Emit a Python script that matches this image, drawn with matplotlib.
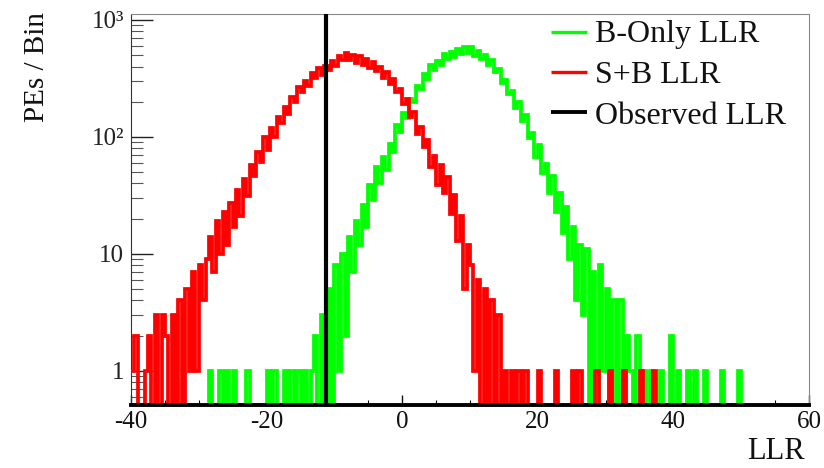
import numpy as np
import matplotlib.pyplot as plt
from matplotlib.ticker import LogLocator, MultipleLocator, NullFormatter

plt.rcParams['font.family'] = ['Liberation Serif', 'DejaVu Serif']

#=================================================================
#---- data: PEs per bin, bins of 0.5 in LLR starting at -40 ----
bin_low   = -40.0
bin_width = 0.5
obs_llr   = -11.2

bonly_counts = [
  0, 0, 0, 0, 0, 0, 0, 0, 0, 0,                  # -40
  0, 0, 0, 0, 0, 0, 0, 0, 0, 0,                  # -35
  0, 0, 0, 1, 0, 0, 1, 0, 1, 0,                  # -30
  1, 0, 0, 0, 1, 0, 0, 0, 0, 0,                  # -25
  1, 0, 1, 0, 0, 1, 0, 1, 0, 1,                  # -20
  0, 1, 0, 1, 2, 0, 3, 0, 5, 0,                  # -15
  8, 1, 10, 2, 14, 7, 19, 12, 26, 17,            # -10
  39, 29, 55, 40, 68, 52, 87, 75, 127, 111,      # -5
  159, 145, 211, 199, 271, 257, 343, 315, 409, 371,  # 0
  449, 412, 510, 463, 537, 483, 566, 513, 589, 522,  # 5
  588, 494, 547, 463, 502, 412, 457, 361, 379, 289,  # 10
  309, 231, 246, 178, 200, 138, 153, 97, 108, 67,    # 15
  85, 49, 59, 33, 46, 23, 33, 15, 25, 9,         # 20
  17, 4, 12, 3, 11, 0, 7, 0, 8, 1,               # 25
  5, 0, 4, 0, 4, 0, 2, 1, 0, 2,                  # 30
  0, 1, 0, 1, 0, 0, 1, 0, 0, 2,                  # 35
  0, 1, 0, 0, 1, 0, 1, 0, 0, 1,                  # 40
  0, 0, 0, 0, 1, 0, 0, 0, 0, 1,                  # 45
  0, 0, 0, 0, 0, 0, 0, 0, 0, 0,                  # 50
  0, 0, 0, 0, 0, 0, 0, 0, 0, 0,                  # 55
]

splusb_counts = [
  1, 2, 0, 0, 1, 2, 0, 3, 0, 3,                  # -40
  2, 0, 3, 0, 4, 0, 5, 1, 7, 1,                  # -35
  8, 4, 9, 14, 7, 19, 10, 23, 12, 27,            # -30
  17, 35, 21, 44, 31, 58, 46, 75, 61, 99,        # -25
  78, 120, 99, 147, 131, 182, 156, 219, 197, 266,    # -20
  240, 302, 274, 351, 318, 387, 337, 406, 370, 447,  # -15
  401, 491, 451, 524, 456, 504, 431, 490, 414, 463,  # -10
  385, 433, 365, 399, 318, 362, 283, 312, 240, 257,  # -5
  190, 210, 147, 163, 106, 122, 82, 95, 55, 69,  # 0
  39, 57, 33, 45, 22, 32, 13, 21, 5, 12,         # 5
  8, 1, 6, 0, 5, 0, 4, 0, 3, 0,                  # 10
  1, 0, 1, 0, 1, 0, 1, 0, 0, 0,                  # 15
  1, 0, 0, 0, 0, 1, 0, 0, 0, 0,                  # 20
  1, 0, 1, 0, 0, 0, 0, 1, 0, 0,                  # 25
  0, 1, 0, 0, 0, 1, 0, 0, 0, 0,                  # 30
  1, 0, 0, 0, 1, 0, 0, 0, 0, 0,                  # 35
  0, 0, 0, 0, 0, 0, 0, 0, 0, 0,                  # 40
  0, 0, 0, 0, 0, 0, 0, 0, 0, 0,                  # 45
  0, 0, 0, 0, 0, 0, 0, 0, 0, 0,                  # 50
  0, 0, 0, 0, 0, 0, 0, 0, 0, 0,                  # 55
]

legend_labels = ['B-Only LLR', 'S+B LLR', 'Observed LLR']
x_ticks       = [-40, -20, 0, 20, 40, 60]
x_ticklabels  = ['-40', '-20', '0', '20', '40', '60']
y_ticks       = [1, 10, 100, 1000]
y_ticklabels  = ['1', '10', '10\u00b2', '10\u00b3']

#=================================================================
bonly  = np.array(bonly_counts, dtype=float)
splusb = np.array(splusb_counts, dtype=float)
edges  = bin_low + bin_width*np.arange(len(bonly)+1)

#empty bins are drawn down to the bottom of the log axis (like ROOT)
floor = 1e-3
bonly_plot  = np.where(bonly  > 0, bonly,  floor)
splusb_plot = np.where(splusb > 0, splusb, floor)

fig = plt.figure(figsize=(8.24, 4.68), dpi=100)
fig.patch.set_facecolor('white')
ax  = fig.add_axes([0.159, 0.1346, 0.8228, 0.8355])
ax.set_yscale('log')

ax.stairs(bonly_plot,  edges, baseline=None, fill=False, edgecolor='#00ff00', lw=2.7, zorder=2)
ax.stairs(splusb_plot, edges, baseline=None, fill=False, edgecolor='#ff0000', lw=2.7, zorder=3)
ax.axvline(obs_llr, color='black', lw=3.0, zorder=4)

ax.set_xlim(-40, 60)
ax.set_ylim(0.51, 1125)

#---- ticks ----
ax.set_xticks(x_ticks, x_ticklabels)
ax.xaxis.set_minor_locator(MultipleLocator(5))
ax.set_yticks(y_ticks, y_ticklabels)
ax.yaxis.set_minor_locator(LogLocator(base=10, subs=np.arange(2, 10)))
ax.yaxis.set_minor_formatter(NullFormatter())

ax.tick_params(axis='x', which='major', direction='in', length=7,   width=1.0, labelsize=18, pad=4, colors='#111111')
ax.tick_params(axis='x', which='minor', direction='in', length=3.6, width=0.8)
ax.tick_params(axis='y', which='major', direction='in', length=15.8, width=1.0, labelsize=18, pad=5, colors='#222222')
ax.tick_params(axis='y', which='minor', direction='in', length=8.6, width=0.8, colors='#555555')

#---- frame ----
for side in ['top', 'right']:
  ax.spines[side].set_color('#888888')
  ax.spines[side].set_linewidth(0.8)
ax.spines['left'].set_color('#333333')
ax.spines['left'].set_linewidth(0.8)
ax.spines['bottom'].set_color('black')
ax.spines['bottom'].set_linewidth(2.8)
ax.spines['bottom'].set_zorder(5)

#---- axis titles ----
fig.text(37/824, 1-12/468, 'PEs / Bin', rotation=90, ha='center', va='top', fontsize=21, color='#111111')
fig.text(805/824, 2/468, 'LLR', ha='right', va='bottom', fontsize=22, color='#111111')

#---- legend ----
leg_colors = ['#00ff00', '#ff0000', 'black']
leg_widths = [2.4, 2.4, 2.8]
leg_line_y = [0.954, 0.8517, 0.7494]
leg_text_y = [0.9284, 0.8235, 0.7187]
for n in range(len(legend_labels)):
  ax.plot([0.6195, 0.6726], [leg_line_y[n], leg_line_y[n]], transform=ax.transAxes,
          color=leg_colors[n], lw=leg_widths[n], solid_capstyle='butt', zorder=6)
  ax.text(0.6844, leg_text_y[n], legend_labels[n], transform=ax.transAxes,
          ha='left', va='baseline', fontsize=23, color='#111111', zorder=6)

fig.savefig('out.png', dpi=100)
